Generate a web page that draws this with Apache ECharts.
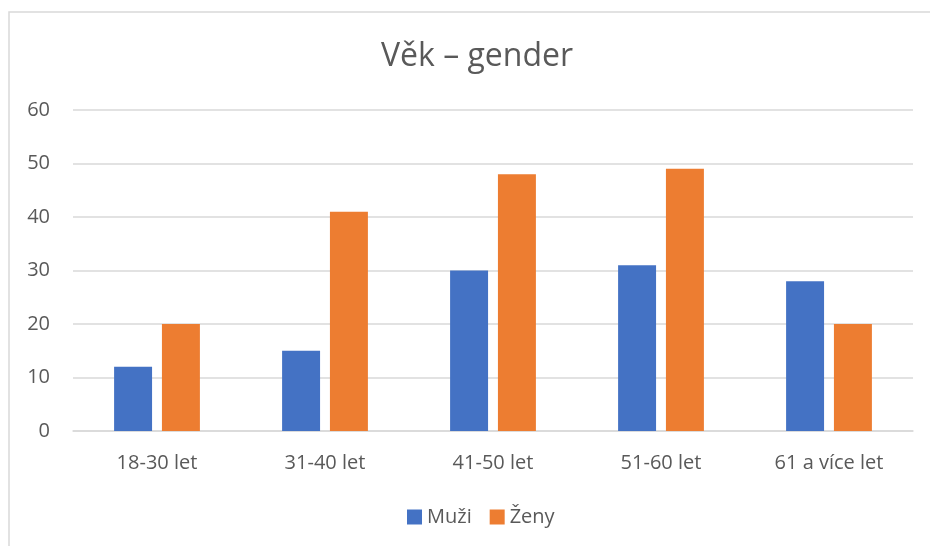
<!DOCTYPE html>
<html>
<head>
<meta charset="utf-8">
<script src="https://cdn.jsdelivr.net/npm/echarts@6/dist/echarts.min.js"></script>
<style>
  html, body { margin: 0; padding: 0; background: #fff; }
  #chart { width: 930px; height: 546px; }
</style>
</head>
<body>
<div id="chart"></div>
<script>
// data
const categories = ["18-30 let", "31-40 let", "41-50 let", "51-60 let", "61 a více let"];
const muzi = [12, 15, 30, 31, 28];
const zeny = [20, 41, 48, 49, 20];
const yTicks = { min: 0, max: 60, interval: 10 };

const chart = echarts.init(document.getElementById("chart"));
const font = "'Open Sans', sans-serif";

chart.setOption({
  animation: false,
  backgroundColor: "#fff",
  graphic: [{
    type: "rect",
    shape: { x: 9, y: 12, width: 940, height: 560 },
    style: { fill: "none", stroke: "#d9d9d9", lineWidth: 1.5 },
    silent: true
  }],
  title: {
    text: "Věk – gender",
    left: 376,
    top: 36,
    textStyle: { fontFamily: font, fontSize: 32, fontWeight: "normal", color: "#595959" }
  },
  legend: {
    bottom: 14,
    left: 402,
    itemWidth: 15,
    itemHeight: 15,
    itemGap: 18,
    icon: "rect",
    textStyle: { fontFamily: font, fontSize: 20, color: "#595959" },
    data: ["Muži", "Ženy"]
  },
  grid: { left: 73, right: 17, top: 110, bottom: 115 },
  xAxis: {
    type: "category",
    data: categories,
    axisLine: { lineStyle: { color: "#d9d9d9", width: 1.5 } },
    axisTick: { show: false },
    axisLabel: { fontFamily: font, fontSize: 20, color: "#595959", margin: 22 }
  },
  yAxis: {
    type: "value",
    min: yTicks.min,
    max: yTicks.max,
    interval: yTicks.interval,
    axisLine: { show: false },
    axisTick: { show: false },
    splitLine: { lineStyle: { color: "#d9d9d9", width: 1.5 } },
    axisLabel: { fontFamily: font, fontSize: 20, color: "#595959", margin: 23 }
  },
  series: [
    {
      name: "Muži",
      type: "bar",
      data: muzi,
      barWidth: "22.6%",
      barGap: "26%",
      itemStyle: { color: "#4472C4" }
    },
    {
      name: "Ženy",
      type: "bar",
      data: zeny,
      barWidth: "22.6%",
      barGap: "26%",
      itemStyle: { color: "#ED7D31" }
    }
  ]
});
</script>
</body>
</html>
